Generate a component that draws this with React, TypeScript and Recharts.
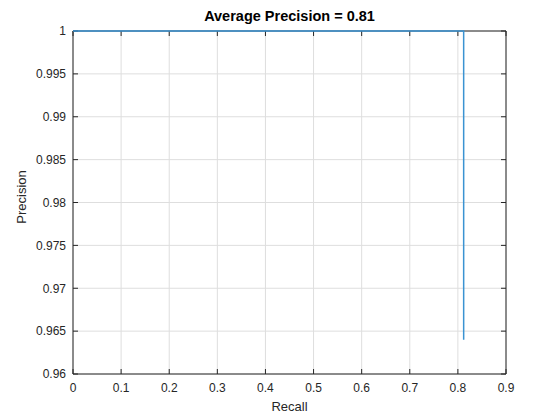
import React from 'react';
import { LineChart, Line, XAxis, YAxis, CartesianGrid } from 'recharts';

const recall = [0, 0.812, 0.812];
const precision = [1, 1, 0.964];
const xTicks = [0, 0.1, 0.2, 0.3, 0.4, 0.5, 0.6, 0.7, 0.8, 0.9];
const yTicks = [0.96, 0.965, 0.97, 0.975, 0.98, 0.985, 0.99, 0.995, 1];
const titleText = 'Average Precision = 0.81';
const xLabel = 'Recall';
const yLabel = 'Precision';

const data = recall.map((r, i) => ({ r, p: precision[i] }));
const fmt = (v: number) => String(+Number(v).toFixed(3));
const FONT = '"Liberation Sans", Arial, Helvetica, sans-serif';
const AX = '#262626';
const tickStyle = { fontSize: 12, fill: AX, fontFamily: FONT };

export default function App() {
  const lineProps: any = { zIndex: 600 };
  return (
    <div style={{ position: 'absolute', left: 0, top: 0, width: 560, height: 420, background: '#fff', fontFamily: FONT }}>
      <LineChart width={560} height={420} data={data} margin={{ top: 21, right: 44, left: 13, bottom: 16 }}>
        <CartesianGrid xAxisId="b" yAxisId="l" stroke="#dedede" strokeWidth={1} />
        <XAxis xAxisId="t" orientation="top" dataKey="r" type="number" domain={[0, 0.9]} ticks={xTicks}
          height={10} tickFormatter={() => ''} tickSize={-5} stroke={AX} interval={0} />
        <YAxis yAxisId="r" orientation="right" type="number" domain={[0.96, 1]} ticks={yTicks}
          width={10} tickFormatter={() => ''} tickSize={-5} stroke={AX} interval={0} />
        <XAxis xAxisId="b" dataKey="r" type="number" domain={[0, 0.9]} ticks={xTicks}
          height={30} tickFormatter={fmt} tickSize={-5} tickMargin={14.5} stroke={AX} tick={tickStyle}
          interval={0} />
        <YAxis yAxisId="l" type="number" domain={[0.96, 1]} ticks={yTicks} width={60}
          tickFormatter={fmt} tickSize={-5} tickMargin={12} stroke={AX} tick={tickStyle} interval={0} />
        <Line xAxisId="t" yAxisId="r" dataKey="p" type="linear" stroke="none" strokeWidth={0}
          dot={false} activeDot={false} legendType="none" isAnimationActive={false} />
        <Line xAxisId="b" yAxisId="l" dataKey="p" type="linear" stroke="#3a93d2" strokeWidth={1.5}
          dot={false} isAnimationActive={false} {...lineProps} />
      </LineChart>
      <div style={{ position: 'absolute', left: 0, width: 579, top: 6, textAlign: 'center', fontWeight: 'bold', fontSize: 14.5, color: '#000', lineHeight: '20px' }}>{titleText}</div>
      <div style={{ position: 'absolute', left: 0, width: 579, top: 398, textAlign: 'center', fontSize: 13, color: AX, lineHeight: '18px' }}>{xLabel}</div>
      <div style={{ position: 'absolute', left: 22, top: 196.5, transform: 'translate(-50%, -50%) rotate(-90deg)', fontSize: 13, color: AX, lineHeight: '18px', whiteSpace: 'nowrap' }}>{yLabel}</div>
    </div>
  );
}
